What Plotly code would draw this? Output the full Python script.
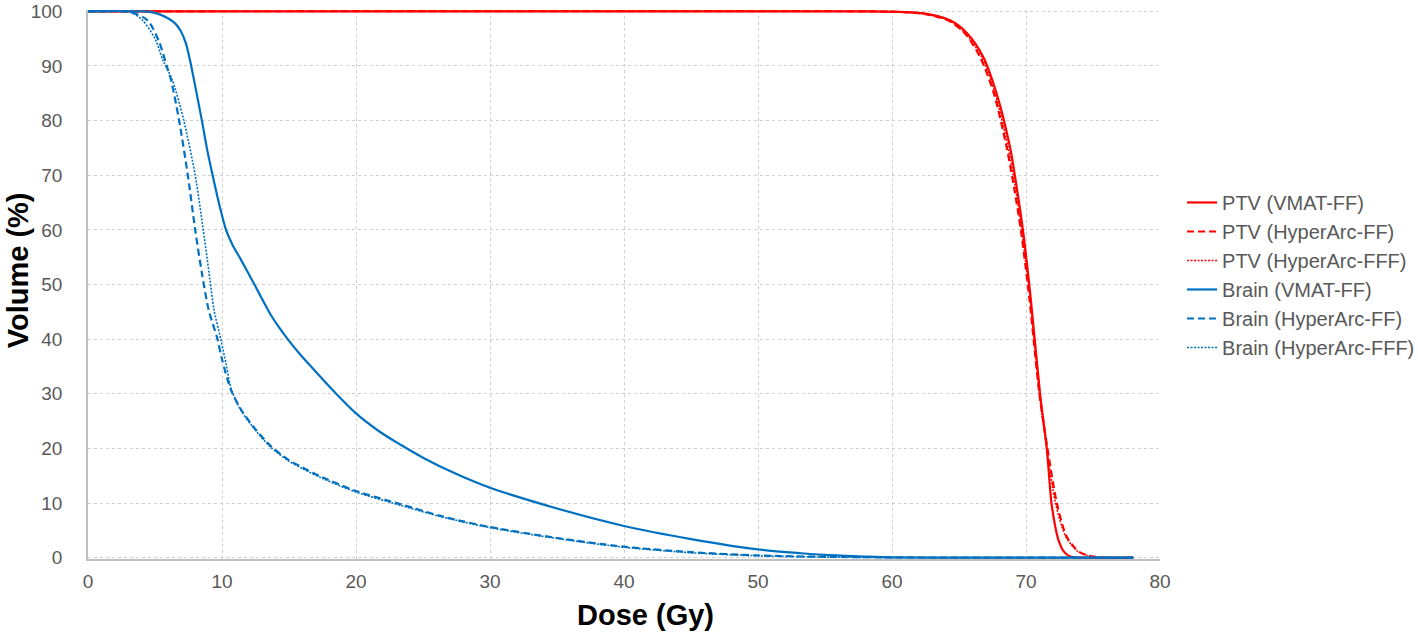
import plotly.graph_objects as go

# ---- data (dose in Gy, volume in %) ----
ptv_vmat_dose = [0, 58, 60.6, 62.5, 64.3, 65.6, 66.8, 67.8, 68.8, 69.3, 69.8, 70.35, 71.05, 71.55, 71.9, 72.2, 72.4, 72.8, 73.3, 74, 78]
ptv_vmat_vol  = [100, 100, 99.9, 99.6, 98.4, 96, 91.7, 85, 75.2, 67.9, 59.4, 47.5, 30, 20, 10, 5.5, 3.4, 1.2, 0.2, 0, 0]

ptv_haff_dose = [0, 58, 60.6, 62.5, 64.3, 65.5, 66.6, 67.6, 68.55, 69.1, 69.65, 70.25, 71.0, 71.6, 72.3, 73.0, 73.5, 74.0, 74.6, 75.2, 75.8, 78]
ptv_haff_vol  = [100, 100, 99.9, 99.5, 98.2, 95.8, 91.5, 85, 75.2, 67.9, 59.4, 47.5, 30, 20, 10, 4.0, 2.2, 1.0, 0.4, 0.15, 0, 0]

ptv_hafff_dose = [0, 58, 60.6, 62.5, 64.3, 65.5, 66.7, 67.7, 68.65, 69.2, 69.7, 70.3, 71.0, 71.55, 72.2, 72.9, 73.4, 73.9, 74.5, 75.1, 75.6, 78]
ptv_hafff_vol  = [100, 100, 99.9, 99.5, 98.3, 95.9, 91.6, 85, 75.2, 67.9, 59.4, 47.5, 30, 20, 10, 4.2, 2.3, 1.1, 0.45, 0.15, 0, 0]

brain_vmat_dose = [0, 4.0, 4.6, 5.3, 6.0, 6.5, 6.9, 7.3, 7.6, 7.9, 8.2, 8.5, 8.9, 9.3, 9.8, 10.3, 10.8, 11.4, 12.4, 13.0, 13.6, 14.3, 14.9, 15.9, 16.9, 18.4, 20, 21.8, 23.3, 25, 27.5, 30, 35, 40, 45, 50, 53.2, 55, 58, 60, 65, 78]
brain_vmat_vol  = [100, 100, 99.9, 99.5, 98.7, 97.8, 96.5, 94.2, 91.2, 87.6, 83.8, 80, 74.6, 70, 64.6, 60, 57.2, 54.6, 50.1, 47.3, 44.6, 42.0, 40, 37.0, 34.3, 30.3, 26.4, 23.0, 20.7, 18.3, 15.3, 12.8, 9.0, 5.8, 3.4, 1.5, 0.8, 0.5, 0.2, 0.05, 0, 0]

brain_haff_dose = [0, 2.8, 3.5, 4.2, 4.6, 5.3, 5.9, 6.2, 6.8, 7.45, 8.0, 8.5, 9.0, 9.65, 10.0, 10.65, 11.4, 12.3, 13.6, 14.9, 16.0, 17.5, 20, 23.3, 26.5, 30, 35, 40, 45, 50, 55, 60, 65, 78]
brain_haff_vol  = [100, 100, 99.6, 98.8, 97.9, 94.5, 89.8, 87.4, 80, 70, 60, 52.1, 45.4, 40.1, 36.3, 30.8, 27.2, 24.1, 20.5, 18.0, 16.5, 14.7, 12.2, 9.8, 7.5, 5.6, 3.6, 2.0, 1.0, 0.4, 0.15, 0.05, 0, 0]

brain_hafff_dose = [0, 2.8, 3.4, 4.1, 5.0, 5.6, 6.3, 7.15, 8.0, 8.6, 9.1, 9.4, 9.9, 10.3, 10.7, 11.4, 12.3, 13.6, 14.9, 16.0, 17.5, 20, 23.3, 26.5, 30, 35, 40, 45, 50, 55, 60, 65, 78]
brain_hafff_vol  = [100, 100, 99.6, 98.3, 95, 91, 87.4, 80, 70, 60, 50.9, 45.4, 40.1, 35.5, 30.8, 27.0, 23.9, 20.3, 17.8, 16.3, 14.5, 12.0, 9.6, 7.4, 5.5, 3.5, 1.9, 0.9, 0.35, 0.1, 0.03, 0, 0]

x_ticks = [0, 10, 20, 30, 40, 50, 60, 70, 80]
y_ticks = [0, 10, 20, 30, 40, 50, 60, 70, 80, 90, 100]

RED = "#FF0000"
BLUE = "#0070C0"

series = [
    ("PTV (VMAT-FF)", ptv_vmat_dose, ptv_vmat_vol, RED, "solid", 2.2),
    ("PTV (HyperArc-FF)", ptv_haff_dose, ptv_haff_vol, RED, "7px,4px", 2.2),
    ("PTV (HyperArc-FFF)", ptv_hafff_dose, ptv_hafff_vol, RED, "2px,1.5px", 1.6),
    ("Brain (VMAT-FF)", brain_vmat_dose, brain_vmat_vol, BLUE, "solid", 2.2),
    ("Brain (HyperArc-FF)", brain_haff_dose, brain_haff_vol, BLUE, "7px,4px", 2.2),
    ("Brain (HyperArc-FFF)", brain_hafff_dose, brain_hafff_vol, BLUE, "2px,1.5px", 1.6),
]

fig = go.Figure()
for name, xd, yd, col, dash, w in series:
    fig.add_trace(go.Scatter(
        x=xd, y=yd, name=name, mode="lines",
        line=dict(color=col, dash=dash, width=w, shape="spline", smoothing=0.8),
    ))

fig.update_layout(
    width=1418, height=636,
    margin=dict(l=88, r=258, t=10, b=77),
    paper_bgcolor="white", plot_bgcolor="white",
    font=dict(family="Liberation Sans, Arial, sans-serif", color="#595959", size=19),
    showlegend=True,
    legend=dict(
        xref="container", yref="container",
        x=0.8336, xanchor="left", y=0.7123, yanchor="top",
        font=dict(size=20, color="#595959"),
        bgcolor="rgba(0,0,0,0)", tracegroupgap=0,
    ),
    annotations=[
        dict(text="<b>Dose (Gy)</b>", xref="paper", yref="paper",
             x=0.5205, y=-0.102, xanchor="center", yanchor="middle",
             showarrow=False, font=dict(size=29, color="black")),
        dict(text="<b>Volume (%)</b>", xref="paper", yref="paper",
             x=0, xshift=-70, y=0.526, xanchor="center", yanchor="middle",
             textangle=-90, showarrow=False, font=dict(size=29, color="black")),
    ],
)

fig.update_xaxes(
    range=[0, 80], tickvals=x_ticks, ticktext=[str(v) for v in x_ticks],
    showgrid=True, gridcolor="#D0D0D0", griddash="3px,3px", gridwidth=1,
    showline=True, linecolor="#BFBFBF", linewidth=1.5,
    ticks="", ticklabelstandoff=4, zeroline=False, automargin=False,
)
fig.update_yaxes(
    range=[-0.25, 100.25], tickvals=y_ticks, ticktext=[str(v) for v in y_ticks],
    showgrid=True, gridcolor="#D0D0D0", griddash="3px,3px", gridwidth=1,
    showline=True, linecolor="#BFBFBF", linewidth=1.5,
    ticks="", ticklabelstandoff=20, zeroline=False, automargin=False,
)

# remove the default 8px page margin so the 1418x636 figure fills the window exactly
fig.write_html("out.html", config={"displayModeBar": False},
               post_script="document.body.style.margin='0';")
